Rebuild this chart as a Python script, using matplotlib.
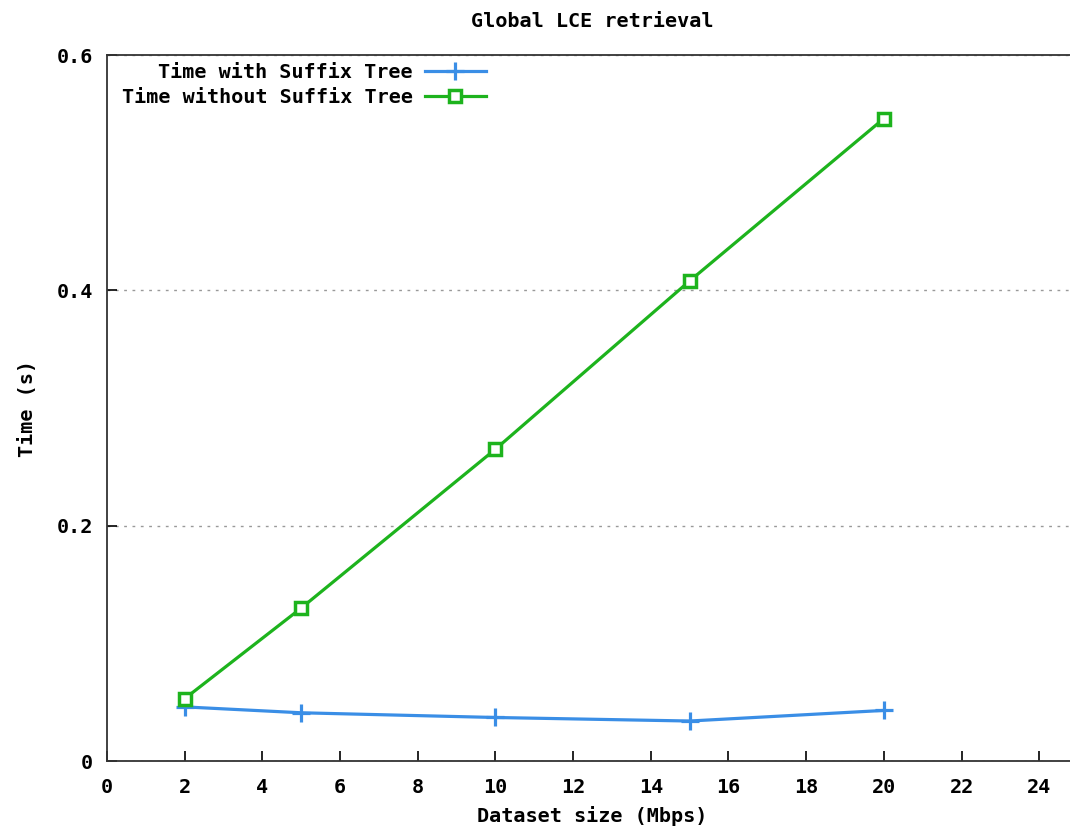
import matplotlib
matplotlib.use('Agg')
import matplotlib.pyplot as plt
import numpy as np

sizes = [2, 5, 10, 15, 20]
timeWithTree = [0.046, 0.041, 0.037, 0.034, 0.043]
timeWithoutTree = [0.053, 0.130, 0.265, 0.408, 0.546]
xTicks = list(range(0, 25, 2))
yTicks = [0, 0.2, 0.4, 0.6]
yTickLabels = ['0', '0.2', '0.4', '0.6']

plt.rcParams['font.family'] = ['DejaVu Sans Mono']
plt.rcParams['font.weight'] = 'bold'
fs = 14.5

fig = plt.figure(figsize=(10.7, 8.3), dpi=100)
ax = fig.add_axes([0.1, 0.0831, 0.9075, 0.8506])

ax.plot(sizes, timeWithTree, color='#3a8ee6', linewidth=2.3,
        marker='+', markersize=13, markeredgewidth=2.3,
        label='Time with Suffix Tree')
ax.plot(sizes, timeWithoutTree, color='#1db31d', linewidth=2.3,
        marker='s', markersize=9, markerfacecolor='white', markeredgewidth=2.5,
        label='Time without Suffix Tree')

ax.set_xlim(0, 25)
ax.set_ylim(0, 0.6)
ax.set_xticks(xTicks)
ax.set_yticks(yTicks)
ax.set_yticklabels(yTickLabels)
ax.tick_params(direction='in', length=7, width=1.2, labelsize=fs,
               top=False, right=False)
ax.tick_params(axis='x', pad=12)
ax.tick_params(axis='y', pad=10)
for s in ax.spines.values():
    s.set_linewidth(1.3)
    s.set_color('#333333')

ax.yaxis.grid(True, linestyle=(0, (2, 4)), color='#999999', linewidth=1)

ax.set_title('Global LCE retrieval', fontsize=fs, fontweight='bold', pad=20)
ax.set_xlabel('Dataset size (Mbps)', fontsize=fs, fontweight='bold', labelpad=7)
ax.set_ylabel('Time (s)', fontsize=fs, fontweight='bold', labelpad=14)

ax.legend(loc='upper right', bbox_to_anchor=(0.394, 0.995), frameon=False,
          markerfirst=False, fontsize=fs, handlelength=3.0, handletextpad=0.6,
          labelspacing=0.3, borderaxespad=0, borderpad=0.2)

fig.savefig('out.png', dpi=100)
